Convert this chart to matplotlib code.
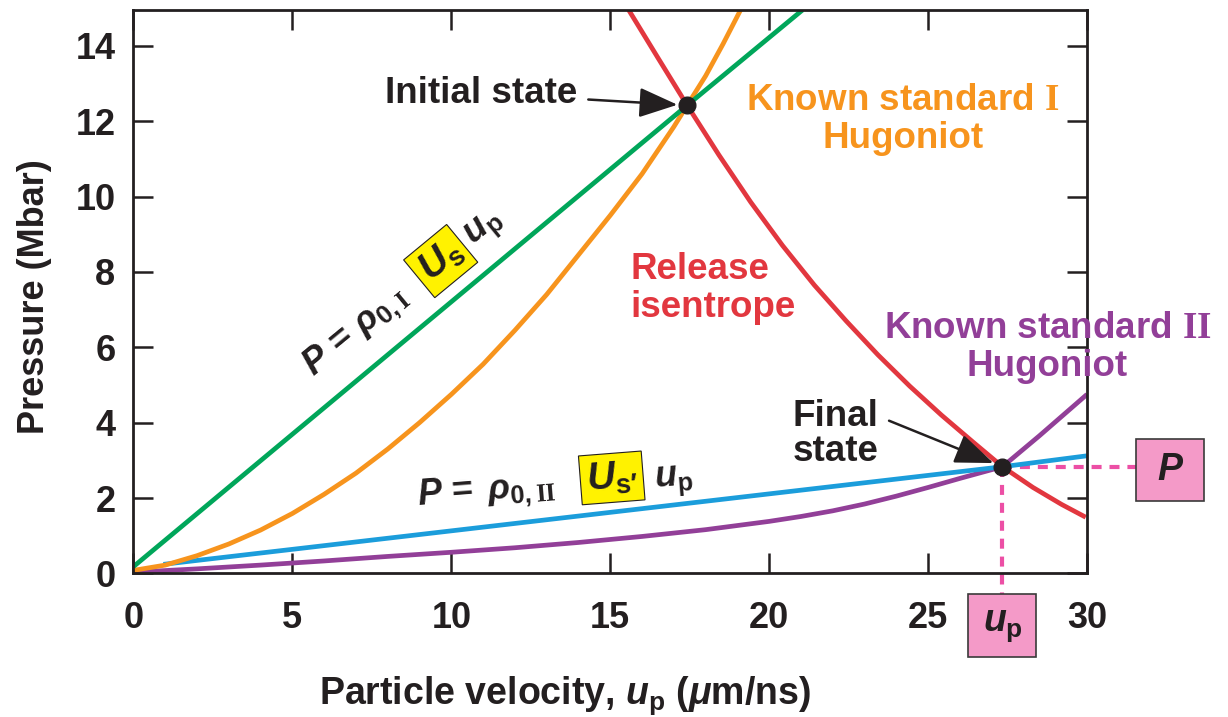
import matplotlib
matplotlib.use('Agg')
import matplotlib.pyplot as plt
import numpy as np
from matplotlib.patches import Rectangle

plt.rcParams['font.family'] = ['Liberation Sans', 'DejaVu Sans']
plt.rcParams['font.weight'] = 'bold'
plt.rcParams['mathtext.fontset'] = 'custom'
plt.rcParams['mathtext.rm'] = 'Liberation Sans:bold'
plt.rcParams['mathtext.it'] = 'Liberation Sans:italic:bold'
plt.rcParams['mathtext.bf'] = 'Liberation Sans:bold'
plt.rcParams['mathtext.sf'] = 'Liberation Sans:bold'
plt.rcParams['mathtext.cal'] = 'Liberation Serif:bold'

# ---------------- data ----------------
green_x = [0.0, 17.42, 21.05]
green_y = [0.18, 12.42, 14.95]

orange_x = [0, 1, 2, 3, 4, 5, 6, 7, 8, 9, 10, 11, 12, 13, 14, 15, 16, 17, 17.42, 18, 18.55, 19.1]
orange_y = [0.08, 0.22, 0.47, 0.78, 1.15, 1.59, 2.1, 2.66, 3.3, 4.0, 4.75, 5.55, 6.45, 7.4, 8.45, 9.5,
            10.6, 11.85, 12.42, 13.2, 14.05, 14.95]

red_x = [15.58, 16.5, 17.42, 18.42, 19.42, 20.42, 21.42, 22.42, 23.42, 24.42, 25.42, 26.42,
         27.34, 28.3, 29.2, 29.96]
red_y = [14.95, 13.68, 12.42, 11.1, 9.85, 8.7, 7.65, 6.7, 5.8, 4.97, 4.2, 3.48,
         2.83, 2.28, 1.83, 1.49]

blue_x = [0.94, 27.34, 30.0]
blue_y = [0.24, 2.83, 3.12]

purple_x = [0, 2, 4, 6, 8, 10, 12, 14, 16, 18, 20, 21, 22, 23, 24, 25, 26, 27.34, 28.5, 30]
purple_y = [0.03, 0.12, 0.22, 0.33, 0.45, 0.56, 0.68, 0.82, 0.98, 1.16, 1.38, 1.51, 1.66, 1.84,
            2.05, 2.28, 2.52, 2.83, 3.65, 4.75]

initial_state = (17.42, 12.42)
final_state = (27.34, 2.83)

x_ticks = [0, 5, 10, 15, 20, 25, 30]
y_ticks = [0, 2, 4, 6, 8, 10, 12, 14]

# ---------------- colours ----------------
C_GREEN = '#00a65a'
C_ORANGE = '#f7941d'
C_RED = '#e2373f'
C_BLUE = '#1b9ddb'
C_PURPLE = '#923f98'
C_PINK = '#ec4fa5'
C_PINKFILL = '#f49ac8'
C_YELLOW = '#fff200'
C_BLACK = '#231f20'

fig = plt.figure(figsize=(12.28, 7.17), dpi=100)
ax = fig.add_axes([0.1087, 0.2003, 0.7765, 0.7858])
ax.set_xlim(0, 30)
ax.set_ylim(0, 14.95)

lw = 3.4
ax.plot(purple_x, purple_y, color=C_PURPLE, lw=lw, solid_capstyle='butt', solid_joinstyle='round', zorder=2)
ax.plot(blue_x, blue_y, color=C_BLUE, lw=lw, solid_capstyle='butt', zorder=2.1)
ax.plot(red_x, red_y, color=C_RED, lw=lw, solid_capstyle='butt', solid_joinstyle='round', zorder=2.2)
ax.plot(orange_x, orange_y, color=C_ORANGE, lw=lw, solid_capstyle='butt', solid_joinstyle='round', zorder=2.3)
ax.plot(green_x, green_y, color=C_GREEN, lw=lw, solid_capstyle='butt', zorder=2.4)

# dashed pink guides
fx, fy = final_state
ax.plot([fx, fx], [fy, -0.57], color=C_PINK, lw=3.0, dashes=(2.4, 1.9), clip_on=False, zorder=1.5)
ax.plot([fx, 31.56], [fy, fy], color=C_PINK, lw=3.0, dashes=(2.4, 1.9), clip_on=False, zorder=1.5)

# state dots
for (sx, sy) in (initial_state, final_state):
    ax.plot([sx], [sy], 'o', ms=12, color=C_BLACK, zorder=5, clip_on=False)

# axes styling
for s in ax.spines.values():
    s.set_linewidth(2.0)
    s.set_color(C_BLACK)
ax.set_xticks(x_ticks)
ax.set_yticks(y_ticks)
ax.tick_params(direction='in', length=14.4, width=1.8, top=True, right=True,
               labelsize=26, colors=C_BLACK)
ax.tick_params(axis='x', pad=20)
ax.tick_params(axis='y', pad=13)
for lab in ax.get_xticklabels() + ax.get_yticklabels():
    lab.set_fontweight('bold')

fig.text(565 / 1228, (717 - 704) / 717, r"Particle velocity, $u_\mathrm{p}$ ($\mu$m/ns)",
         ha='center', va='baseline', fontsize=27, color=C_BLACK)
fig.text(34.5 / 1228, (717 - 296.5) / 717, "Pressure (Mbar)", rotation=90,
         ha='center', va='center', fontsize=26, color=C_BLACK)

FS = 26.5
# text annotations
ax.annotate("Initial state", xy=initial_state, xytext=(13.96, 12.74),
            ha='right', va='center', fontsize=FS, color=C_BLACK,
            arrowprops=dict(arrowstyle='-|>,head_length=0.9,head_width=0.35', lw=1.8,
                            color=C_BLACK, shrinkA=6, shrinkB=7))
ax.annotate("Final\nstate", xy=final_state, xytext=(22.09, 3.70),
            ha='center', va='center', fontsize=FS, color=C_BLACK, linespacing=1.0,
            arrowprops=dict(arrowstyle='-|>,head_length=0.9,head_width=0.35', lw=1.8,
                            color=C_BLACK, shrinkA=6, shrinkB=7, relpos=(1.0, 0.75)))

ax.text(24.2, 12.05, "Known standard $\\mathcal{I}$\nHugoniot", ha='center', va='center',
        fontsize=FS, color=C_ORANGE, linespacing=1.1)
ax.text(15.63, 7.55, "Release\nisentrope", ha='left', va='center',
        fontsize=FS, color=C_RED, linespacing=1.1)
ax.text(28.75, 6.0, "Known standard $\\mathcal{II}$\nHugoniot", ha='center', va='center',
        fontsize=FS, color=C_PURPLE, linespacing=1.1, clip_on=False)


def rotated_label(anchor, ang, main, box, box_off, box_fs, tail, tail_off):
    a = np.deg2rad(ang)
    u = np.array([np.cos(a), np.sin(a)])
    n = np.array([-np.sin(a), np.cos(a)])
    ax.annotate(main, xy=anchor, xytext=(0, 0), textcoords='offset pixels',
                rotation=ang, rotation_mode='anchor', ha='left', va='baseline',
                fontsize=26, color=C_BLACK)
    bo = box_off[0] * u + box_off[1] * n
    ax.annotate(box, xy=anchor, xytext=(bo[0], bo[1]), textcoords='offset pixels',
                rotation=ang, rotation_mode='anchor', ha='center', va='center',
                fontsize=box_fs, color=C_BLACK,
                bbox=dict(boxstyle='square,pad=0.15', fc=C_YELLOW, ec=C_BLACK, lw=0.8))
    to = tail_off[0] * u + tail_off[1] * n
    ax.annotate(tail, xy=anchor, xytext=(to[0], to[1]), textcoords='offset pixels',
                rotation=ang, rotation_mode='anchor', ha='left', va='baseline',
                fontsize=26, color=C_BLACK)


rotated_label((5.65, 5.22), 39.5, r"$P$ = $\rho_{0,\mathcal{I}}$", r"$U_\mathrm{s}$", (172, 8), 28,
              r"$u_\mathrm{p}$", (207, 0))
rotated_label((8.96, 1.81), 4.5, r"$P$ = $\,\rho_{0,\mathcal{II}}$", r"$U_{\mathrm{s}′}$", (195, 12), 28,
              r"$u_\mathrm{p}$", (237, 0))

# pink boxes
ax.add_patch(Rectangle((fx - 1.07, -1.395 - 0.835), 2.14, 1.67, fc=C_PINKFILL, ec='#3a3a3a',
                       lw=1.2, clip_on=False, zorder=3))
ax.text(fx, -1.395, r"$u_\mathrm{p}$", ha='center', va='center', fontsize=27, color=C_BLACK,
        clip_on=False, zorder=4)
ax.add_patch(Rectangle((32.62 - 1.07, fy - 0.09 - 0.82), 2.12, 1.64, fc=C_PINKFILL, ec='#3a3a3a',
                       lw=1.2, clip_on=False, zorder=3))
ax.text(32.62, fy - 0.09, r"$P$", ha='center', va='center', fontsize=27, color=C_BLACK,
        clip_on=False, zorder=4)

fig.savefig('out.png', dpi=100)
